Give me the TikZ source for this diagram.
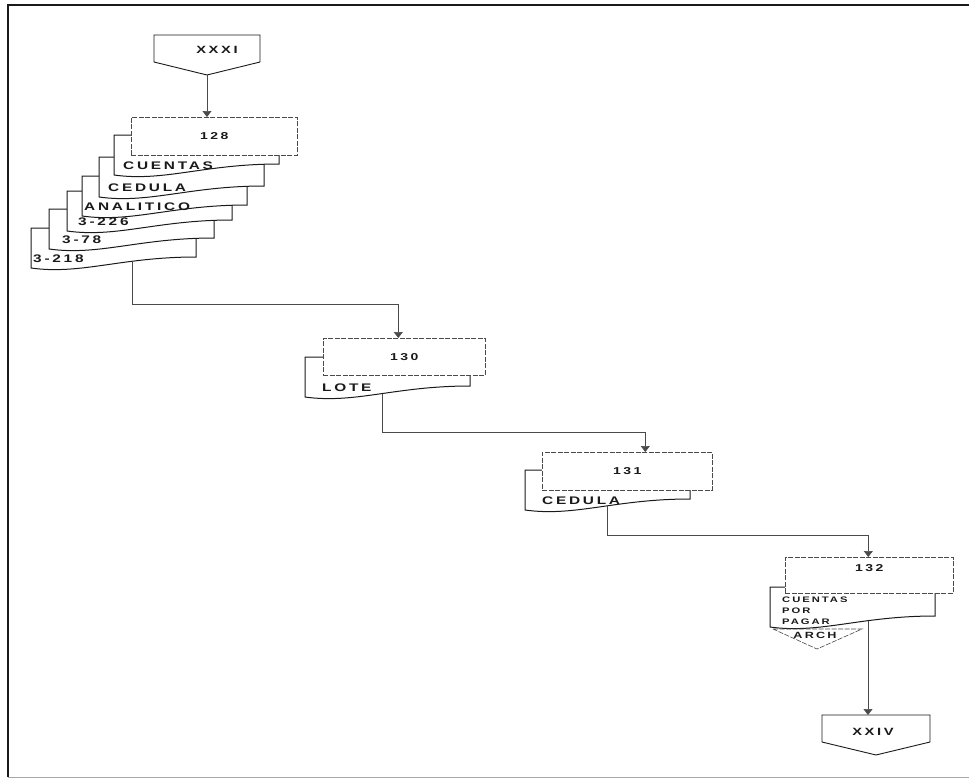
\documentclass[tikz,border=0pt]{standalone}
\usepackage{fontspec}
\setmainfont{Liberation Sans}
\newfontfamily\flowfont[FakeStretch=1.4,LetterSpace=25]{Liberation Sans Bold}
\usetikzlibrary{arrows.meta, positioning, calc}
\definecolor{ink}{HTML}{1A1A1A}
\definecolor{scan}{HTML}{4A4A4A}
\definecolor{frame}{HTML}{A8A8A8}

% document page with a wavy lower edge: [label opts]{name}{left}{top}{text x}{label}
\newcommand{\docsheet}[6][]{%
  \draw[docline] (#3,#4) -- (#3+165,#4) -- (#3+165,#4+29)
    .. controls (#3+90,#4+29) and (#3+50,#4+47) .. (#3,#4+40) -- cycle;
  \node[doclbl, anchor=west, #1] (#2) at (#5,#4+31) {#6};
}

\begin{document}
\begin{tikzpicture}[x=1pt, y=-1pt,
  >={Triangle[length=6pt, width=9pt]},
  flow/.style={->, line width=0.7pt, draw=scan},
  stepbox/.style={draw=scan, line width=0.6pt, dash pattern=on 5pt off 1.5pt,
    fill=white, anchor=north west, inner sep=0pt, text=ink,
    font=\flowfont\fontsize{10}{12}\selectfont},
  docline/.style={draw=ink, line width=1pt, fill=white},
  doclbl/.style={inner sep=0pt, text=ink,
    font=\flowfont\fontsize{11}{13}\selectfont},
  pagebox/.style={draw=ink, line width=0.9pt, fill=white},
]

\useasboundingbox (0,0) rectangle (969,779);

% Frame
\draw[ink, line width=1.2pt] (8,777) -- (8,5) -- (969,5);
\draw[frame, line width=1pt] (8,777) -- (969,777);

% =============================================
% Off-page connector XXXI
% =============================================
\draw[pagebox] (154,35) -- (260,35) -- (260,62) -- (207,75) -- (154,62) -- cycle;
\node[doclbl, font=\flowfont\fontsize{10.5}{12}\selectfont] (xxxi) at (217,50) {XXXI};
\coordinate (xxxitip) at (207,75);

% =============================================
% Step 128 with its documents
% =============================================
\docsheet{d3218}{31}{228}{33}{3-218}
\docsheet{d378}{49}{209}{62}{3-78}
\docsheet{d3226}{67}{191}{78}{3-226}
\docsheet{danal}{82}{176}{84}{ANALITICO}
\docsheet{dcedula}{99}{157}{108}{CEDULA}
\docsheet{dcuentas}{114}{135}{123}{CUENTAS}
\node[stepbox, minimum width=166pt, minimum height=38pt] (b128) at (131,117) {128};
\coordinate (stackfoot) at (132,261);

% =============================================
% Step 130
% =============================================
\docsheet{dlote}{305}{357}{322}{LOTE}
\node[stepbox, minimum width=162pt, minimum height=37pt] (b130) at (323,338) {130};
\coordinate (lotefoot) at (382,394);

% =============================================
% Step 131
% =============================================
\docsheet{dced131}{525}{470}{542}{CEDULA}
\node[stepbox, minimum width=170pt, minimum height=38pt] (b131) at (542,452) {131};
\coordinate (cedfoot) at (607,506);

% =============================================
% Step 132 and file
% =============================================
\docsheet[align=left, yshift=7pt, font=\flowfont\fontsize{8}{11}\selectfont]
  {dcxp}{770}{587}{782}{CUENTAS\\POR\\PAGAR}
\node[stepbox, minimum width=168pt, minimum height=36pt, text depth=14pt]
  (b132) at (785,557) {132};
\draw[scan, line width=0.6pt, dash pattern=on 5pt off 1.5pt]
  (773,629) -- (862,629) -- (817,649) -- cycle;
\node[doclbl, font=\flowfont\fontsize{9}{10}\selectfont] (arch) at (815,635) {ARCH};
\coordinate (cxpfoot) at (868,621);

% =============================================
% Off-page connector XXIV
% =============================================
\draw[pagebox] (822,715) -- (930,715) -- (930,742) -- (876,755) -- (822,742) -- cycle;
\node[doclbl, font=\flowfont\fontsize{10.5}{12}\selectfont] (xxiv) at (873,732) {XXIV};
\coordinate (xxivtop) at (876,715);

% =============================================
% Arrows
% =============================================
\draw[flow] (xxxitip) -- (xxxitip |- b128.north);
\draw[flow] (stackfoot) -- ++(0,43) -| ([xshift=-6pt]b130.north);
\draw[flow] (lotefoot) -- ++(0,38) -| ([xshift=18pt]b131.north);
\draw[flow] (cedfoot) -- ++(0,29) -| ([xshift=-1pt]b132.north);
\draw[flow] (cxpfoot) -- (cxpfoot |- xxivtop);

\end{tikzpicture}
\end{document}
